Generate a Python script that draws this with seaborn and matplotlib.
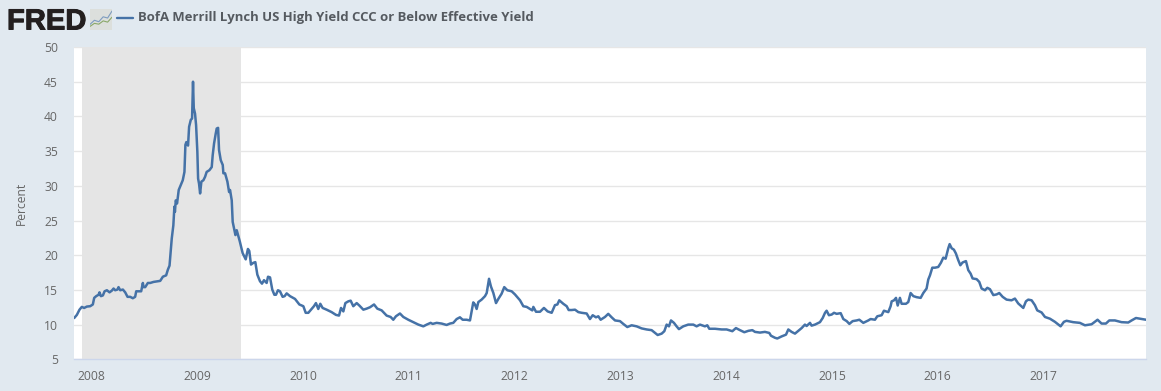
import matplotlib
matplotlib.use("Agg")
import matplotlib.pyplot as plt
import matplotlib.patheffects as pe
import numpy as np
import pandas as pd
import seaborn as sns

TITLE = "BofA Merrill Lynch US High Yield CCC or Below Effective Yield"
Y_LABEL = "Percent"
Y_TICKS = [5, 10, 15, 20, 25, 30, 35, 40, 45, 50]
X_TICKS = [2008, 2009, 2010, 2011, 2012, 2013, 2014, 2015, 2016, 2017]
RECESSION = (2007.915, 2009.415)

t_2008 = [2007.838,2007.863,2007.888,2007.91,2007.932,2007.958,2007.989,2008.014,2008.027,2008.046,2008.068,2008.077,2008.09,2008.109,2008.125,2008.147,2008.172,2008.194,2008.21,2008.225,2008.247,2008.257,2008.273,2008.298,2008.32,2008.342,2008.367,2008.392,2008.414,2008.424,2008.446,2008.471,2008.487,2008.493,2008.509,2008.534,2008.556,2008.588,2008.651,2008.676,2008.707,2008.723,2008.739,2008.75,2008.76,2008.775,2008.785,2008.79,2008.798,2008.81,2008.826,2008.845,2008.864,2008.88,2008.889,2008.898,2008.914,2008.924,2008.94,2008.952,2008.961,2008.968,2008.98,2008.99]
v_2008 = [10.95,11.4,12.15,12.55,12.4,12.6,12.65,12.9,13.85,14.1,14.3,14.65,14.1,14.2,14.8,14.95,14.65,14.9,15.2,14.95,15.05,15.4,14.95,15.05,14.65,14,14,13.8,14,14.8,14.8,14.8,16,15.4,15.4,16,16,16.15,16.3,16.9,17.1,17.9,18.5,20.5,22.4,24.3,27,26.25,27.9,27.45,29.4,30.1,30.8,32,35.9,36.3,35.8,38.5,39.5,39.7,45,41.2,40.4,38.75]

t_2009 = [2009.002,2009.009,2009.018,2009.028,2009.04,2009.059,2009.075,2009.09,2009.116,2009.138,2009.147,2009.16,2009.176,2009.185,2009.198,2009.207,2009.223,2009.242,2009.248,2009.264,2009.286,2009.302,2009.311,2009.327,2009.336,2009.352,2009.362,2009.374,2009.387,2009.403,2009.43,2009.459,2009.48,2009.493,2009.509,2009.531,2009.55,2009.569,2009.594,2009.613,2009.632,2009.657,2009.67,2009.689,2009.71,2009.73,2009.745,2009.764,2009.783,2009.808,2009.827,2009.846,2009.878,2009.925,2009.966]
v_2009 = [34.9,31.05,30.3,28.9,30.6,30.8,31.3,32,32.25,32.7,34.4,36.1,37.55,38.25,38.35,35.15,33.7,33,31.8,31.8,30.6,29.1,29.4,27.9,24.8,23.6,22.9,23.6,22.9,22,20.3,19.4,20.9,20.6,18.65,18.9,19,17.2,16.25,15.9,16.4,16,16.9,16.8,15.05,14.3,14.3,14.95,14.8,14,14.1,14.5,14.1,13.7,12.9]

t_2010 = [2010.004,2010.026,2010.051,2010.076,2010.104,2010.123,2010.145,2010.164,2010.186,2010.224,2010.271,2010.312,2010.341,2010.36,2010.382,2010.401,2010.429,2010.451,2010.476,2010.508,2010.533,2010.571,2010.602,2010.634,2010.672,2010.703,2010.744,2010.791,2010.829,2010.854,2010.879,2010.917,2010.949,2010.996]
v_2010 = [12.65,11.7,11.7,12.15,12.65,13.1,12.25,13,12.4,12.15,11.8,11.4,11.3,12.4,11.9,13.1,13.35,13.45,12.65,13.1,12.75,12.15,12.3,12.5,12.9,12.3,12.05,11.3,11.1,10.7,11.2,11.6,11.1,10.7]

t_2011 = [2011.043,2011.091,2011.138,2011.17,2011.207,2011.226,2011.264,2011.311,2011.358,2011.39,2011.421,2011.453,2011.484,2011.51,2011.547,2011.579,2011.595,2011.61,2011.626,2011.642,2011.658,2011.689,2011.721,2011.737,2011.759,2011.777,2011.8,2011.825,2011.847,2011.878,2011.903,2011.932,2011.973]
v_2011 = [10.35,10,9.75,10,10.25,10.1,10.25,10.15,9.95,10.15,10.25,10.8,11.05,10.7,10.7,10.6,11.9,13.2,12.9,12.25,13.25,13.6,14.1,14.55,16.6,15.5,14.55,13.1,13.7,14.45,15.4,14.95,14.8]

t_2012 = [2012.004,2012.052,2012.083,2012.115,2012.146,2012.168,2012.178,2012.203,2012.241,2012.278,2012.313,2012.351,2012.382,2012.405,2012.423,2012.461,2012.493,2012.512,2012.54,2012.572,2012.603,2012.635,2012.682,2012.713,2012.739,2012.77,2012.792,2012.814,2012.855,2012.886,2012.918,2012.95,2012.997]
v_2012 = [14.35,13.5,12.65,12.55,12.25,12.05,12.55,11.85,11.85,12.4,11.9,11.7,12.8,12.9,13.5,13,12.65,12.1,12.1,12.15,11.8,11.7,11.6,10.8,11.35,11.05,11.2,10.7,11.1,11.55,11.05,10.6,10.5]

t_2013 = [2013.028,2013.066,2013.107,2013.154,2013.202,2013.249,2013.296,2013.328,2013.353,2013.391,2013.416,2013.438,2013.46,2013.479,2013.507,2013.532,2013.554,2013.595,2013.642,2013.69,2013.721,2013.753,2013.8,2013.822,2013.841,2013.895,2013.958]
v_2013 = [10.1,9.65,9.9,9.75,9.45,9.3,9.2,8.8,8.5,8.7,9.05,10,9.75,10.6,10.25,9.75,9.35,9.75,10,10,9.75,10,9.75,9.9,9.4,9.4,9.3]

t_2014 = [2014.005,2014.059,2014.093,2014.131,2014.172,2014.21,2014.248,2014.273,2014.32,2014.367,2014.408,2014.424,2014.462,2014.484,2014.525,2014.566,2014.588,2014.619,2014.651,2014.682,2014.714,2014.745,2014.761,2014.793,2014.808,2014.84,2014.887,2014.913,2014.935,2014.95,2014.972,2014.998]
v_2014 = [9.3,9.05,9.5,9.2,8.9,9.1,9.2,8.95,8.85,8.95,8.8,8.4,8.1,8,8.3,8.55,9.3,8.95,8.7,9.1,9.5,10,9.8,10.25,9.85,10,10.35,10.95,11.7,12,11.35,11.45]

t_2015 = [2015.02,2015.045,2015.083,2015.108,2015.14,2015.165,2015.196,2015.234,2015.259,2015.297,2015.344,2015.366,2015.407,2015.429,2015.47,2015.492,2015.533,2015.555,2015.565,2015.587,2015.606,2015.622,2015.643,2015.659,2015.7,2015.722,2015.744,2015.77,2015.801,2015.839,2015.864,2015.895,2015.911,2015.927,2015.949,2015.974]
v_2015 = [11.7,11.55,11.65,10.8,10.5,10.1,10.5,10.6,10.7,10.25,10.6,10.8,10.7,11.2,11.35,12,11.8,12.65,13.35,13.5,13.85,12.75,13.85,13,13,13.25,14.55,14.1,13.95,13.85,14.55,15.2,16.5,17.1,18.2,18.2]

t_2016 = [2016.005,2016.03,2016.053,2016.075,2016.1,2016.113,2016.132,2016.153,2016.172,2016.194,2016.214,2016.235,2016.267,2016.289,2016.311,2016.33,2016.368,2016.393,2016.415,2016.447,2016.469,2016.494,2016.526,2016.557,2016.582,2016.614,2016.651,2016.698,2016.73,2016.761,2016.809,2016.834,2016.856,2016.888,2016.919,2016.941,2016.982]
v_2016 = [18.3,18.9,19.65,19.5,21,21.6,21,20.8,20.25,19.3,18.55,18.95,19.15,17.85,17.35,16.65,16.55,16.15,15.2,14.95,15.3,15.1,14.25,14.35,14.55,14,13.6,13.5,13.75,13.05,12.4,13.35,13.6,13.5,12.8,12.05,11.75]

t_2017 = [2017.014,2017.061,2017.108,2017.162,2017.193,2017.218,2017.281,2017.344,2017.392,2017.455,2017.486,2017.511,2017.549,2017.59,2017.622,2017.675,2017.738,2017.801,2017.833,2017.874,2017.912,2017.969]
v_2017 = [11.1,10.85,10.4,9.75,10.4,10.55,10.35,10.25,9.9,10.05,10.4,10.7,10.15,10.15,10.6,10.6,10.35,10.3,10.6,10.95,10.85,10.7]

years = t_2008 + t_2009 + t_2010 + t_2011 + t_2012 + t_2013 + t_2014 + t_2015 + t_2016 + t_2017
yields = v_2008 + v_2009 + v_2010 + v_2011 + v_2012 + v_2013 + v_2014 + v_2015 + v_2016 + v_2017
df = pd.DataFrame({"year": years, "yield": yields})

W, H = 1161, 391
BG = "#e1e9f0"
LINE = "#4572a7"
sns.set_theme(style="white")
plt.rcParams["font.family"] = ["Open Sans", "DejaVu Sans"]

fig = plt.figure(figsize=(W / 100, H / 100), dpi=100, facecolor=BG)
ax = fig.add_axes([74 / W, 1 - 359.3 / H, (1146 - 74) / W, (359.3 - 47) / H], facecolor="white")

ax.yaxis.grid(True, color="#e6e6e6", lw=1, zorder=1)
ax.xaxis.grid(False)
ax.set_axisbelow(True)
ax.axvspan(*RECESSION, color="#e5e5e5", lw=0, zorder=1.5)
sns.lineplot(data=df, x="year", y="yield", ax=ax, color=LINE, lw=1.8, sort=False,
             errorbar=None, estimator=None, zorder=3)

ax.set_xlim(2007.836, 2017.969)
ax.set_ylim(5, 50)
ax.set_xticks(X_TICKS)
ax.set_xticklabels([str(x) for x in X_TICKS])
ax.set_yticks(Y_TICKS)
ax.tick_params(axis="x", length=6.5, width=0.8, color="#ccd6eb", labelsize=8.7, labelcolor="#666666", pad=1.5)
ax.tick_params(axis="y", length=0, labelsize=8.7, labelcolor="#666666", pad=11.5)
for s in ["top", "left", "right"]:
    ax.spines[s].set_visible(False)
ax.spines["bottom"].set_color("#ccd6eb")
ax.spines["bottom"].set_linewidth(1)
ax.set_xlabel("")
ax.set_ylabel("")
fig.text(21 / W, 1 - 203 / H, Y_LABEL, rotation=90, ha="center", va="center", fontsize=8.7, color="#666666")

# header: legend key + title
fig.add_artist(plt.Line2D([117 / W, 133 / W], [1 - 18 / H, 1 - 18 / H], color=LINE, lw=1.7))
fig.text(138 / W, 1 - 17.5 / H, TITLE, ha="left", va="center", fontsize=9.42, fontweight="bold", color="#555a60")

# logo wordmark
fig.text(7 / W, 1 - 29.5 / H, "FRED", ha="left", va="baseline", fontsize=21, fontweight="bold",
         family=["Liberation Sans"], color="#231f20",
         path_effects=[pe.withStroke(linewidth=0.7, foreground="#231f20")])
icon = fig.add_axes([90 / W, 1 - 29.5 / H, 22 / W, 20.5 / H], facecolor="#dcdfdc")
icon.plot([0, 2, 4, 6, 8, 10], [2.5, 4.5, 3.8, 6.2, 5.6, 9], color="#7d9cc0", lw=0.8)
icon.plot([0, 2, 4, 6, 8, 10], [1.5, 3, 2.6, 4.2, 3.6, 6], color="#8aa86a", lw=0.8)
icon.set_xlim(0, 10)
icon.set_ylim(0, 10)
icon.set_xticks([])
icon.set_yticks([])
for s in icon.spines.values():
    s.set_visible(False)

fig.savefig("out.png", dpi=100, facecolor=BG)
